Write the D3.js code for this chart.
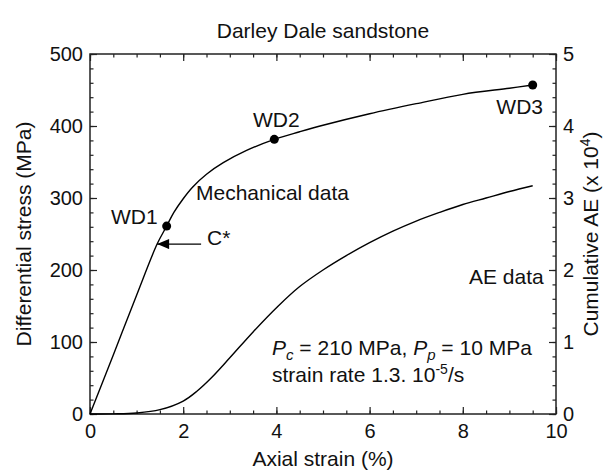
<!DOCTYPE html>
<html><head><meta charset="utf-8">
<script src="https://cdn.jsdelivr.net/npm/d3@7"></script>
<style>
body{margin:0;background:#fff;}
text{font-family:"Liberation Sans",Arial,Helvetica,sans-serif;fill:#111;}
</style></head>
<body><svg id="c" width="605" height="472"></svg>
<script>
// ---- data ----
const strainTicks = [0, 2, 4, 6, 8, 10];
const stressTicks = [0, 100, 200, 300, 400, 500];
const aeTicks = [0, 1, 2, 3, 4, 5];
// Mechanical data: axial strain (%) vs differential stress (MPa)
const mechStrain = [0, 0.5, 1.0, 1.44, 1.645, 1.8, 2.0, 2.2, 2.5, 2.86, 3.36, 3.955, 4.5, 5.0, 6.0, 7.0, 8.0, 9.0, 9.5];
const mechStress = [0, 82, 165, 236, 261, 280, 299, 315, 333, 349, 366, 381.5, 392, 401, 417, 431, 444, 452.5, 457];
// AE data: axial strain (%) vs cumulative AE (x 10^4)
const aeStrain = [0, 0.5, 1.0, 1.5, 2.0, 2.3, 2.6, 3.0, 3.5, 4.04, 4.5, 5.0, 5.5, 6.0, 6.5, 7.0, 7.5, 8.0, 8.5, 9.0, 9.5];
const aeValue = [0, 0.002, 0.014, 0.06, 0.18, 0.32, 0.5, 0.78, 1.14, 1.5, 1.77, 2.0, 2.2, 2.38, 2.54, 2.68, 2.8, 2.91, 3.0, 3.09, 3.17];
// labelled points
const wdNames = ["WD1", "WD2", "WD3"];
const wdStrain = [1.645, 3.955, 9.5];
const wdStress = [261, 381.5, 457];
const cStarStrain = 1.44, cStarStress = 236;

// ---- layout ----
const L = 90, R = 556, T = 54, B = 414;
const svg = d3.select("#c");
const x = d3.scaleLinear().domain([0, 10]).range([L, R]);
const y = d3.scaleLinear().domain([0, 500]).range([B, T]);
const y2 = d3.scaleLinear().domain([0, 5]).range([B, T]);
const FS = "21px", TFS = "20px";

function addAxis(axisFn, scale, ticks, minorTicks, transform, showLabels, pad) {
  const g = svg.append("g").attr("transform", transform);
  g.call(axisFn(scale).tickValues(minorTicks).tickSizeInner(-3.5).tickSizeOuter(0).tickFormat(""));
  const g2 = svg.append("g").attr("transform", transform);
  g2.call(axisFn(scale).tickValues(ticks).tickSizeInner(-7).tickSizeOuter(0).tickPadding(pad)
    .tickFormat(showLabels ? d3.format("d") : ""));
  [g, g2].forEach(gg => {
    gg.select(".domain").remove();
    gg.selectAll(".tick line").attr("stroke", "#222").attr("stroke-width", 1.2);
    gg.selectAll("text").style("font-size", TFS).attr("fill", "#111")
      .style("font-family", '"Liberation Sans",Arial,sans-serif');
  });
  return g2;
}
const minorX = d3.range(0, 10.001, 0.5);
const minorY = d3.range(0, 500.1, 20);
const minorY2 = d3.range(0, 5.001, 0.2);
addAxis(d3.axisBottom, x, strainTicks, minorX, `translate(0,${B})`, true, 10);
addAxis(d3.axisTop, x, strainTicks, minorX, `translate(0,${T})`, false, 3);
addAxis(d3.axisLeft, y, stressTicks, minorY, `translate(${L},0)`, true, 7);
addAxis(d3.axisRight, y2, aeTicks, minorY2, `translate(${R},0)`, true, 7);

svg.append("rect").attr("x", L).attr("y", T).attr("width", R - L).attr("height", B - T)
  .attr("fill", "none").attr("stroke", "#222").attr("stroke-width", 1.5);

// ---- curves ----
const mech = mechStrain.map((s, i) => [s, mechStress[i]]);
const ae = aeStrain.map((s, i) => [s, aeValue[i]]);
svg.append("path").datum(mech)
  .attr("d", d3.line().x(d => x(d[0])).y(d => y(d[1])).curve(d3.curveCatmullRom.alpha(0.5)))
  .attr("fill", "none").attr("stroke", "#000").attr("stroke-width", 1.4);
svg.append("path").datum(ae)
  .attr("d", d3.line().x(d => x(d[0])).y(d => y2(d[1])).curve(d3.curveCatmullRom.alpha(0.5)))
  .attr("fill", "none").attr("stroke", "#000").attr("stroke-width", 1.4);

svg.selectAll("circle.wd").data(wdStrain).enter().append("circle")
  .attr("cx", d => x(d)).attr("cy", (d, i) => y(wdStress[i])).attr("r", 4.5).attr("fill", "#000");

// C* arrow
const defs = svg.append("defs");
defs.append("marker").attr("id", "ah").attr("viewBox", "0 0 12 10").attr("refX", 12).attr("refY", 5)
  .attr("markerWidth", 13).attr("markerHeight", 10).attr("markerUnits", "userSpaceOnUse").attr("orient", "auto")
  .append("path").attr("d", "M0,0 L12,5 L0,10 Z").attr("fill", "#000");
svg.append("line").attr("x1", x(cStarStrain) + 44).attr("y1", y(cStarStress))
  .attr("x2", x(cStarStrain)).attr("y2", y(cStarStress))
  .attr("stroke", "#000").attr("stroke-width", 1.4).attr("marker-end", "url(#ah)");

// ---- text ----
function txt(s, xx, yy, anchor) {
  return svg.append("text").attr("x", xx).attr("y", yy).attr("text-anchor", anchor || "start")
    .style("font-size", FS).text(s);
}
txt("Darley Dale sandstone", (L + R) / 2, 38, "middle");
txt("Axial strain (%)", (L + R) / 2, 466, "middle");
svg.append("text").attr("transform", `translate(31,${(T + B) / 2}) rotate(-90)`)
  .attr("text-anchor", "middle").style("font-size", FS).text("Differential stress (MPa)");
const rl = svg.append("text").attr("transform", `translate(598,${(T + B) / 2}) rotate(-90)`)
  .attr("text-anchor", "middle").style("font-size", FS);
rl.append("tspan").text("Cumulative AE (x 10");
rl.append("tspan").attr("dy", -8).style("font-size", "14px").text("4");
rl.append("tspan").attr("dy", 8).text(")");

txt(wdNames[0], x(wdStrain[0]) - 9, 224, "end");
txt(wdNames[1], x(wdStrain[1]) + 2, 127, "middle");
txt(wdNames[2], x(wdStrain[2]) - 13, 114, "middle");
txt("C*", 207, 245);
txt("Mechanical data", 196, 200);
txt("AE data", 469, 284);

const t1 = txt("", 272, 355);
t1.append("tspan").style("font-style", "italic").text("P");
t1.append("tspan").style("font-style", "italic").style("font-size", "15px").attr("dy", 5).text("c");
t1.append("tspan").attr("dy", -5).text(" = 210 MPa, ");
t1.append("tspan").style("font-style", "italic").text("P");
t1.append("tspan").style("font-style", "italic").style("font-size", "15px").attr("dy", 5).text("p");
t1.append("tspan").attr("dy", -5).text(" = 10 MPa");
const t2 = txt("", 272, 382);
t2.append("tspan").text("strain rate 1.3. 10");
t2.append("tspan").style("font-size", "14px").attr("dy", -8).text("-5");
t2.append("tspan").attr("dy", 8).text("/s");
</script></body></html>
